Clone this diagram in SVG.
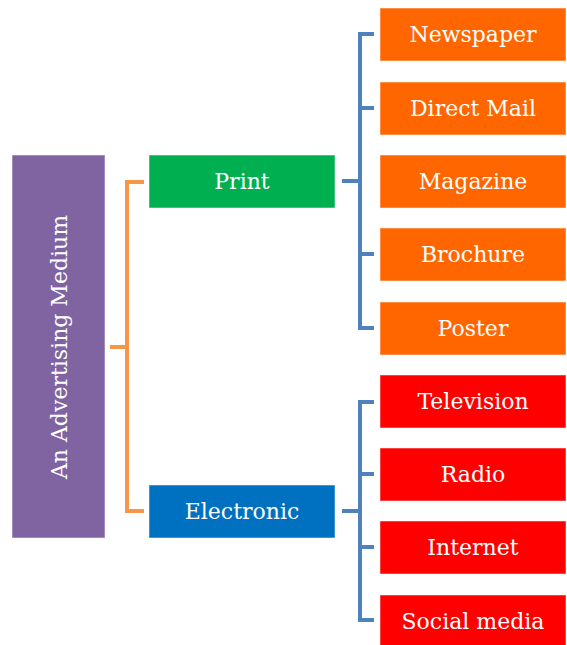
<svg xmlns="http://www.w3.org/2000/svg" width="567" height="645" viewBox="0 0 567 645">
<style>
.t{font-family:"DejaVu Serif","Liberation Serif",serif;font-size:22px;fill:#fff;text-anchor:middle;dominant-baseline:central}
.b{stroke:#fff;stroke-opacity:0.5;stroke-width:1}
.ob{fill:#FF6600}
.rb{fill:#FF0000}
.cb{fill:none;stroke:#4F81BD;stroke-width:4}
.co{fill:none;stroke:#F79646;stroke-width:4}
</style>
<rect width="567" height="645" fill="#fff"/>
<g id="connectors">
<path class="co" d="M144 182H127V511H144M110 347H127"/>
<path class="cb" d="M374 34H360V328H374M374 108H360M374 254H360M342 181H360"/>
<path class="cb" d="M374 402H360V620H374M374 474H360M374 547H360M342 511H360"/>
</g>
<g id="root"><rect class="b" x="12" y="155" width="93" height="383" fill="#8064A2"/><text class="t" transform="translate(59 347) rotate(-90)">An Advertising Medium</text></g>
<g id="print"><rect class="b" x="149" y="155" width="186" height="53" fill="#00B050"/><text class="t" x="242" y="181">Print</text></g>
<g id="electronic"><rect class="b" x="149" y="485" width="186" height="53" fill="#0070C0"/><text class="t" x="242" y="511">Electronic</text></g>
<g id="newspaper"><rect class="b ob" x="380" y="8" width="186" height="53"/><text class="t" x="473" y="34">Newspaper</text></g>
<g id="directmail"><rect class="b ob" x="380" y="82" width="186" height="53"/><text class="t" x="473" y="108">Direct Mail</text></g>
<g id="magazine"><rect class="b ob" x="380" y="155" width="186" height="53"/><text class="t" x="473" y="181">Magazine</text></g>
<g id="brochure"><rect class="b ob" x="380" y="228" width="186" height="53"/><text class="t" x="473" y="254">Brochure</text></g>
<g id="poster"><rect class="b ob" x="380" y="302" width="186" height="53"/><text class="t" x="473" y="328">Poster</text></g>
<g id="television"><rect class="b rb" x="380" y="375" width="186" height="53"/><text class="t" x="473" y="401">Television</text></g>
<g id="radio"><rect class="b rb" x="380" y="448" width="186" height="53"/><text class="t" x="473" y="474">Radio</text></g>
<g id="internet"><rect class="b rb" x="380" y="521" width="186" height="53"/><text class="t" x="473" y="547">Internet</text></g>
<g id="socialmedia"><rect class="b rb" x="380" y="595" width="186" height="53"/><text class="t" x="473" y="621">Social media</text></g>
</svg>
